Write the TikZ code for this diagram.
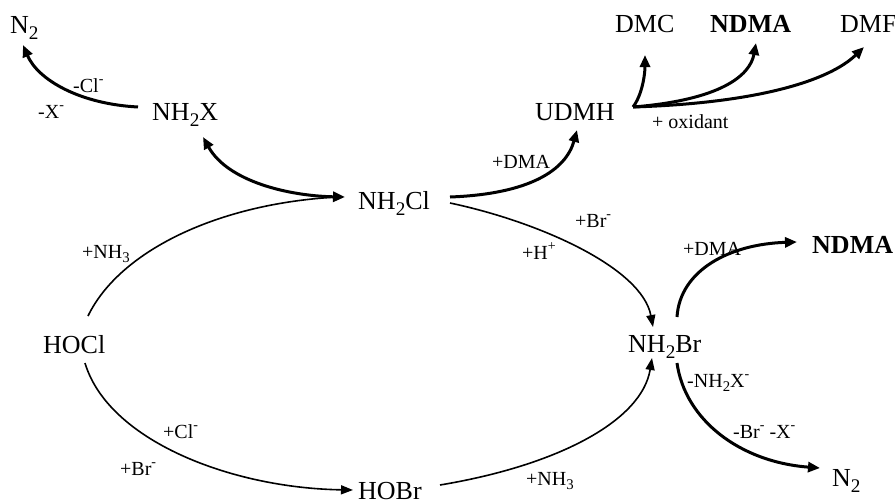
\documentclass[tikz,border=0pt]{standalone}
\usepackage{fontspec}
\usepackage{graphicx}
\setmainfont{Liberation Serif}
\usetikzlibrary{arrows.meta,calc}
\newcommand\chsub[1]{\raisebox{-0.24em}{\scalebox{0.74}{#1}}}
\newcommand\chsup[1]{\raisebox{0.42em}{\scalebox{0.7}{#1}}}
\begin{document}
\begin{tikzpicture}[x=1pt,y=-1pt,
  chem/.style={anchor=base west,inner sep=0pt,font=\fontsize{26}{30}\selectfont},
  lab/.style={anchor=base west,inner sep=0pt,font=\fontsize{20}{24}\selectfont},
  thinarrow/.style={line width=1.6pt,-{Triangle[length=12pt,width=9pt]}},
  thickarrow/.style={line width=3pt,-{Triangle[length=12pt,width=10pt]}},
  dblarrow/.style={line width=3pt,{Triangle[length=12pt,width=10pt]}-{Triangle[length=12pt,width=10pt]}},
  plainline/.style={line width=1.6pt}]
\useasboundingbox (0,0) rectangle (895,501);
% species
\node[chem] (n2a) at (10,33) {N\chsub{2}};
\node[chem] (nh2x) at (152,120) {NH\chsub{2}X};
\node[chem] (dmc) at (615,32) {DMC};
\node[chem,font=\fontsize{26}{30}\selectfont\bfseries] (ndmaa) at (710,32) {NDMA};
\node[chem] (dmf) at (840,32) {DMF};
\node[chem] (udmh) at (535,120) {UDMH};
\node[chem] (nh2cl) at (358,209) {NH\chsub{2}Cl};
\node[chem] (hocl) at (43,353) {HOCl};
\node[chem] (hobr) at (358,499) {HOBr};
\node[chem] (nh2br) at (628,352) {NH\chsub{2}Br};
\node[chem,font=\fontsize{26}{30}\selectfont\bfseries] (ndmab) at (812,253) {NDMA};
\node[chem] (n2b) at (832,486) {N\chsub{2}};
% labels
\node[lab] (lcl) at (73,92) {-Cl\chsup{-}};
\node[lab] (lx) at (38,118) {-X\chsup{-}};
\node[lab] (lox) at (652,128) {+ oxidant};
\node[lab] (ldmaa) at (492,168) {+DMA};
\node[lab] (lnh3a) at (82,258) {+NH\chsub{3}};
\node[lab] (lbra) at (575,227) {+Br\chsup{-}};
\node[lab] (lh) at (522,259) {+H\chsup{+}};
\node[lab] (ldmab) at (683,255) {+DMA};
\node[lab] (lcl2) at (163,438) {+Cl\chsup{-}};
\node[lab] (lbrb) at (120,475) {+Br\chsup{-}};
\node[lab] (lnh3b) at (526,485) {+NH\chsub{3}};
\node[lab] (lnh2x) at (687,387) {-NH\chsub{2}X\chsup{-}};
\node[lab] (lbrx) at (733,438) {-Br\chsup{-} -X\chsup{-}};
% connectors
\draw[thickarrow] ($(nh2x.base west)+(-14,-13)$) .. controls (80,104) and (38,80) .. ($(n2a.base west)+(13,12)$);
\draw[dblarrow] ($(nh2x.base west)+(51,17)$) .. controls (228,182) and (290,196) .. ($(nh2cl.base west)+(-13,-12)$);
\draw[plainline] ($(hocl.base west)+(45,-37)$) .. controls (120,250) and (220,203) .. ($(nh2cl.base west)+(-20,-12)$);
\draw[thickarrow] ($(nh2cl.base west)+(92,-12)$) .. controls (530,194) and (566,170) .. ($(udmh.base west)+(42,10)$);
\draw[thinarrow] ($(nh2cl.base west)+(92,-6)$) .. controls (540,222) and (642,268) .. ($(nh2br.base west)+(25,-25)$);
\draw[thickarrow] ($(udmh.base west)+(98,-13)$) .. controls (642,95) and (645,75) .. ($(dmc.base west)+(30,23)$);
\draw[thickarrow] ($(udmh.base west)+(98,-13)$) .. controls (720,100) and (750,76) .. ($(ndmaa.base west)+(46,11)$);
\draw[thickarrow] ($(udmh.base west)+(98,-13)$) .. controls (760,103) and (830,80) .. ($(dmf.base west)+(24,15)$);
\draw[thinarrow] ($(hocl.base west)+(42,10)$) .. controls (108,440) and (230,488) .. ($(hobr.base west)+(-5,-9)$);
\draw[thinarrow] ($(hobr.base west)+(82,-14)$) .. controls (560,465) and (642,420) .. ($(nh2br.base west)+(24,6)$);
\draw[thickarrow] ($(nh2br.base west)+(49,-35)$) .. controls (680,270) and (730,244) .. ($(ndmab.base west)+(-15,-11)$);
\draw[thickarrow] ($(nh2br.base west)+(49,11)$) .. controls (685,420) and (740,462) .. ($(n2b.base west)+(-12,-18)$);
\end{tikzpicture}
\end{document}
